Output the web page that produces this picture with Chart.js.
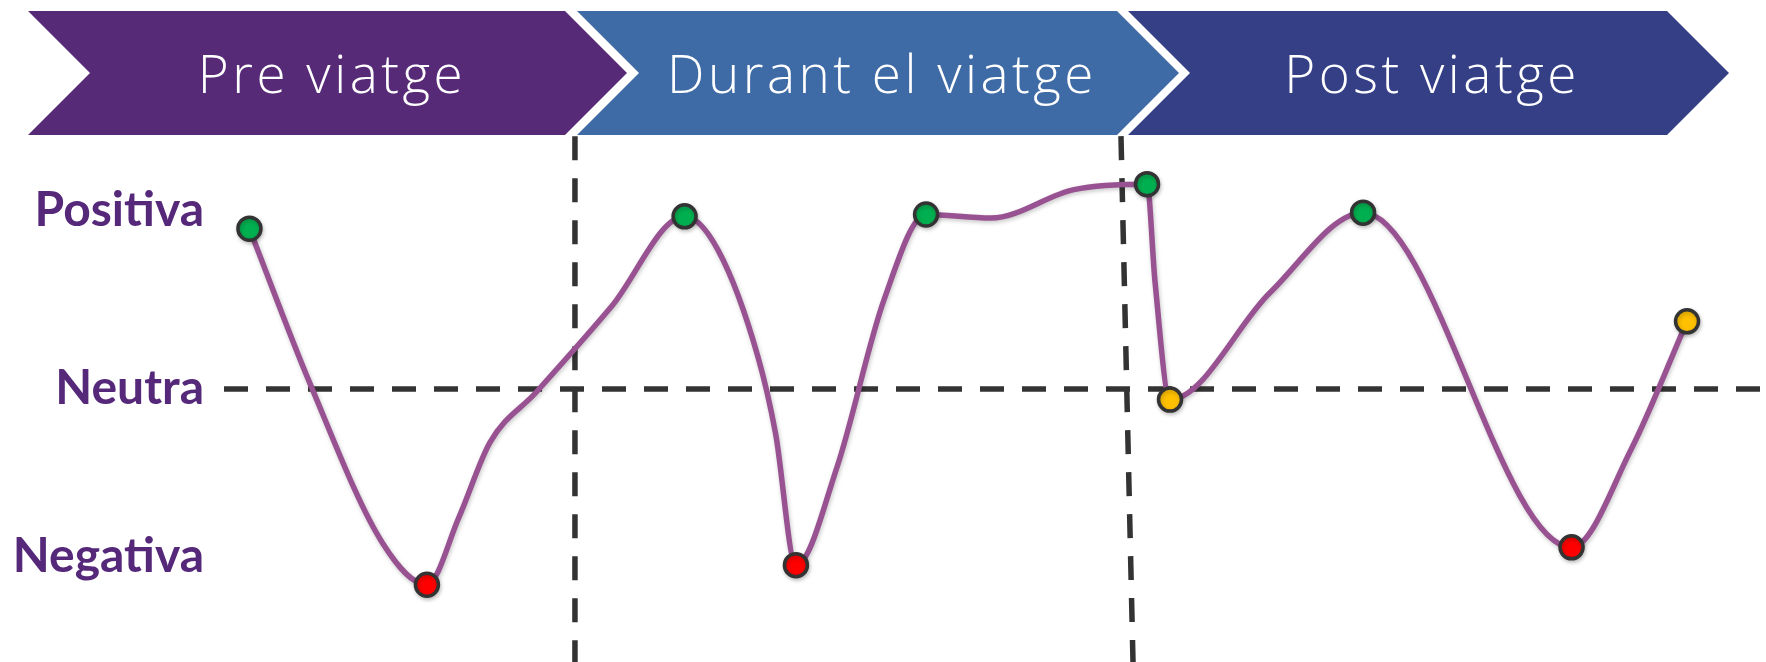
<!DOCTYPE html>
<html>
<head>
<meta charset="utf-8">
<script src="https://cdn.jsdelivr.net/npm/chart.js@4.4.1/dist/chart.umd.min.js"></script>
<style>
html,body{margin:0;padding:0;background:#fff;}
#wrap{position:relative;width:1766px;height:662px;overflow:hidden;}
#c{position:absolute;left:0;top:0;}
.phase{position:absolute;top:11px;height:124px;}
.phase span{position:absolute;top:61px;transform:translate(-50%,-50%);white-space:nowrap;color:#fff;
  font-family:"Open Sans",sans-serif;font-weight:300;font-size:53px;letter-spacing:3.5px;}
</style>
</head>
<body>
<div id="wrap">
  <canvas id="c" width="1766" height="662"></canvas>
  <div id="phases"></div>
</div>
<script>
// ---- data ----
const phaseNames   = ["Pre viatge", "Durant el viatge", "Post viatge"];
const phaseColors  = ["#572a77", "#3e6aa5", "#343f86"];

const tickValues = [-0.94, 0, 1];
const tickLabels = ["Negativa", "Neutra", "Positiva"];

// journey position (0-100) and emotion (-1 negative .. +1 positive)
const curveX = [1.65, 5.58, 10.31, 13.16, 15.24, 17.25, 20.23, 25.10, 29.87, 32.04,
                34.63, 35.77, 37.09, 39.75, 42.80, 45.53, 49.74, 55.12, 59.86, 60.38,
                61.35, 67.83, 73.87, 87.39, 91.25, 94.88];
const curveY = [0.90, 0.03, -0.87, -1.10, -0.72, -0.30, -0.02, 0.46, 0.97, 0.78,
                0.18, -0.25, -0.99, -0.44, 0.50, 0.98, 0.96, 1.12, 1.15, 0.60,
                -0.06, 0.54, 0.99, -0.89, -0.34, 0.38];
// marker type per point: "pos", "neg", "neu" or "" (curve point without marker)
const markerKinds = ["pos", "", "", "neg", "", "", "", "", "pos", "",
                     "", "", "neg", "", "", "pos", "", "", "pos", "",
                     "neu", "", "pos", "neg", "", "neu"];
const kindColors = {pos: "#00b050", neg: "#ff0000", neu: "#ffc000"};

// phase boundaries (journey position at top and at bottom of the dashed line)
const boundaryTopX    = [22.76, 58.17];
const boundaryBottomX = [22.76, 58.95];
const boundaryTopY    = 1.42;

// ---- phase banners (HTML, real text) ----
const bannerLeft  = [28, 577, 1128];
const bannerRight = [565, 1117, 1667];
const bannerTextX = [332, 882, 1432];
const depth = 62, H = 124;
const holder = document.getElementById('phases');
phaseNames.forEach((name, i) => {
  const L = bannerLeft[i], R = bannerRight[i], w = R - L + depth;
  const d = document.createElement('div');
  d.className = 'phase';
  d.style.left = L + 'px';
  d.style.width = w + 'px';
  d.style.background = phaseColors[i];
  d.style.clipPath = `polygon(0px 0px, ${R - L}px 0px, ${w}px ${H / 2}px, ${R - L}px ${H}px, 0px ${H}px, ${depth}px ${H / 2}px)`;
  const s = document.createElement('span');
  s.textContent = name;
  s.style.left = (bannerTextX[i] - L) + 'px';
  d.appendChild(s);
  holder.appendChild(d);
});

// ---- chart ----
const points = curveX.map((x, i) => ({x: x, y: curveY[i]}));

const guides = {
  id: 'guides',
  beforeDatasetsDraw(chart) {
    const {ctx, chartArea, scales: {x, y}} = chart;
    ctx.save();
    ctx.strokeStyle = '#333333';
    ctx.lineWidth = 5.5;
    ctx.setLineDash([24, 18]);
    const y0 = y.getPixelForValue(0);
    ctx.beginPath();
    ctx.moveTo(chartArea.left, y0);
    ctx.lineTo(chartArea.right, y0);
    ctx.stroke();
    boundaryTopX.forEach((bx, i) => {
      ctx.beginPath();
      ctx.moveTo(x.getPixelForValue(bx), y.getPixelForValue(boundaryTopY));
      ctx.lineTo(x.getPixelForValue(boundaryBottomX[i]), chartArea.bottom);
      ctx.stroke();
    });
    ctx.restore();
  }
};
const shadow = {
  id: 'shadow',
  beforeDatasetDraw(chart) {
    const ctx = chart.ctx;
    ctx.save();
    ctx.shadowColor = 'rgba(0,0,0,0.22)';
    ctx.shadowBlur = 4;
    ctx.shadowOffsetX = 1;
    ctx.shadowOffsetY = 2;
  },
  afterDatasetDraw(chart) { chart.ctx.restore(); }
};

new Chart(document.getElementById('c'), {
  type: 'line',
  data: {
    datasets: [{
      data: points,
      borderColor: '#985292',
      borderWidth: 5.5,
      fill: false,
      clip: false,
      cubicInterpolationMode: 'monotone',
      pointRadius: ctx => markerKinds[ctx.dataIndex] ? 11.5 : 0,
      pointHoverRadius: ctx => markerKinds[ctx.dataIndex] ? 11.5 : 0,
      pointBackgroundColor: ctx => kindColors[markerKinds[ctx.dataIndex]] || 'rgba(0,0,0,0)',
      pointBorderColor: ctx => markerKinds[ctx.dataIndex] ? '#333333' : 'rgba(0,0,0,0)',
      pointBorderWidth: 3.5
    }]
  },
  options: {
    responsive: false,
    animation: false,
    events: [],
    layout: {padding: 0, autoPadding: false},
    plugins: {legend: {display: false}, tooltip: {enabled: false}, title: {display: false}},
    scales: {
      x: {type: 'linear', min: 0, max: 100, display: false},
      y: {
        min: -1.534, max: 2.185,
        grid: {display: false, drawTicks: false},
        border: {display: false},
        afterBuildTicks: s => { s.ticks = tickValues.map(v => ({value: v})); },
        afterFit: s => { s.width = 224; s.paddingTop = 0; s.paddingBottom = 0; },
        ticks: {
          padding: 20,
          color: '#55287a',
          font: {family: 'Lato', weight: 'bold', size: 48},
          callback: (v, i) => tickLabels[i]
        }
      }
    }
  },
  plugins: [guides, shadow]
});
</script>
</body>
</html>
